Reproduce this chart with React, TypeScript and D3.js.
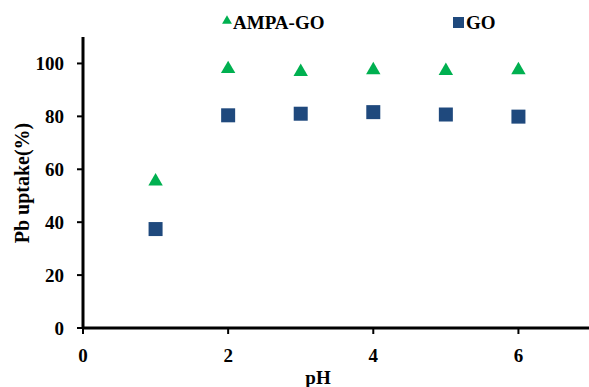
import React from "react";
import * as d3 from "d3";

// pH values and Pb uptake (%) for each sorbent
const phValues = [1, 2, 3, 4, 5, 6];
const ampaGo = [55.8, 98.3, 97.2, 97.9, 97.6, 97.9];
const go = [37.4, 80.4, 81.0, 81.6, 80.7, 79.9];
const xTicks = [0, 2, 4, 6];
const yTicks = [0, 20, 40, 60, 80, 100];

const W = 589;
const H = 387;
const FONT = "'Liberation Serif', 'Times New Roman', serif";
const GREEN = "#00B050";
const BLUE = "#1F497D";

export default function App() {
  const x = d3.scaleLinear().domain([0, 7]).range([83, 591]);
  const y = d3.scaleLinear().domain([0, 110]).range([328, 37]);
  const tri = d3.symbol().type(d3.symbolTriangle).size(90)();
  const triSmall = d3.symbol().type(d3.symbolTriangle).size(42)();
  const sq = 14;

  return (
    <svg
      width={W}
      height={H}
      style={{ position: "absolute", left: 0, top: 0, background: "#fff" }}
      fontFamily={FONT}
      fontWeight="bold"
    >
      {/* y axis */}
      <line x1={x(0)} x2={x(0)} y1={y(110)} y2={y(0)} stroke="#000" strokeWidth={3} />
      {yTicks.map((t) => (
        <g key={"y" + t}>
          <line x1={x(0) - 6} x2={x(0)} y1={y(t)} y2={y(t)} stroke="#000" strokeWidth={2} />
          <text x={64} y={y(t)} dy="0.35em" textAnchor="end" fontSize={19}>
            {t}
          </text>
        </g>
      ))}
      {/* x axis */}
      <line x1={x(0)} x2={x(7)} y1={y(0)} y2={y(0)} stroke="#000" strokeWidth={3} />
      {xTicks.map((t) => (
        <g key={"x" + t}>
          <line x1={x(t)} x2={x(t)} y1={y(0)} y2={y(0) + 6} stroke="#000" strokeWidth={2} />
          <text x={x(t)} y={355} dy="0.35em" textAnchor="middle" fontSize={19}>
            {t}
          </text>
        </g>
      ))}
      <text x={318} y={384} textAnchor="middle" fontSize={19}>
        pH
      </text>
      <text
        transform={`translate(22,${183}) rotate(-90)`}
        textAnchor="middle"
        dy="0.35em"
        fontSize={20}
      >
        Pb uptake(%)
      </text>

      {/* series */}
      {phValues.map((p, i) => (
        <path key={"a" + p} d={tri!} transform={`translate(${x(p)},${y(ampaGo[i]) + 1})`} fill={GREEN} />
      ))}
      {phValues.map((p, i) => (
        <rect key={"g" + p} x={x(p) - sq / 2} y={y(go[i]) - sq / 2} width={sq} height={sq} fill={BLUE} />
      ))}

      {/* legend */}
      <path d={triSmall!} transform="translate(227,21)" fill={GREEN} />
      <text x={233} y={22} dy="0.35em" fontSize={19}>
        AMPA-GO
      </text>
      <rect x={453} y={17} width={11} height={11} fill={BLUE} />
      <text x={466} y={22} dy="0.35em" fontSize={19}>
        GO
      </text>
    </svg>
  );
}
